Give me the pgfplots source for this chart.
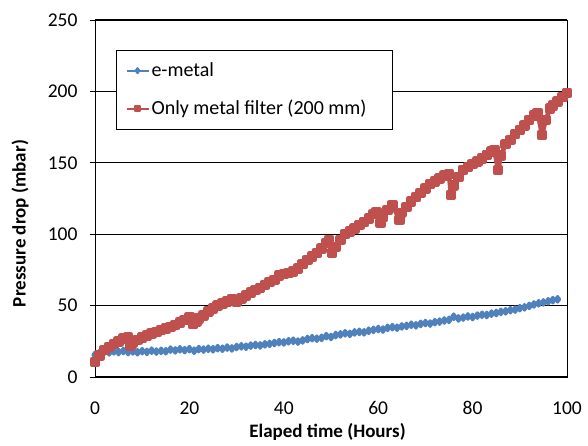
\documentclass[border=0pt]{standalone}
\usepackage{pgfplots}
\pgfplotsset{compat=1.18}
\usepackage{fontspec}
\setmainfont{Carlito}
\definecolor{exblue}{HTML}{4F81BD}
\definecolor{exred}{HTML}{C0504D}
\begin{document}
\fontsize{19bp}{22bp}\selectfont
\begin{tikzpicture}
\useasboundingbox (-95bp,-69bp) rectangle (493bp,377bp);
\begin{axis}[
  at={(0,0)}, anchor=south west,
  scale only axis,
  width=472bp, height=357bp,
  xmin=0, xmax=100, ymin=0, ymax=250,
  xtick={0,20,40,60,80,100},
  ytick={0,50,100,150,200,250},
  ymajorgrids=true,
  major grid style={black, line width=1.1bp},
  axis line style={black, line width=0.8bp},
  x tick style={draw=none},
  y tick style={black, line width=0.8bp},
  tick align=outside,
  major tick length=5bp,
  xtick pos=bottom, ytick pos=left,
  /pgf/number format/assume math mode=true,
  ticklabel style={font=\fontsize{19.5bp}{22bp}\selectfont},
  xticklabel style={yshift=-13bp},
  yticklabel style={xshift=-6bp},
  xlabel={\textbf{Elaped time (Hours)}},
  ylabel={\textbf{Pressure drop (mbar)}},
  xlabel style={at={(axis description cs:0.4926,-0.154)}, anchor=center, font=\fontsize{19bp}{22bp}\selectfont},
  ylabel style={at={(axis description cs:-0.159,0.43)}, anchor=center, rotate=0, font=\fontsize{19bp}{22bp}\selectfont},
  legend style={at={(0.045,0.916)}, anchor=north west, draw=black, line width=0.6bp, fill=white,
     font=\fontsize{20bp}{23bp}\selectfont, row sep=17bp, inner xsep=9bp, inner ysep=10bp},
  legend cell align=left,
  legend image code/.code={\draw[mark repeat=2,mark phase=2, line width=2bp, mark size=2.5bp] plot coordinates {(0bp,0bp) (11bp,0bp) (22bp,0bp)};},
]
\addplot[color=exblue, line width=3bp, line join=round, mark=diamond*, mark size=2.8bp, mark options={solid}] coordinates {
(0,15.5)(1,17.0)(2,17.8)(3,17.2)(4,18.0)(5,17.5)(6,18.2)(7,17.4)(8,17.9)(9,17.3)
(10,18.1)(11,17.6)(12,18.4)(13,17.8)(14,18.3)(15,18.0)(16,19.2)(17,18.6)(18,19.4)(19,18.8)
(20,19.5)(21,18.4)(22,19.6)(23,19.2)(24,19.8)(25,19.4)(26,20.2)(27,19.8)(28,20.6)(29,20.0)
(30,21.0)(31,21.5)(32,21.2)(33,22.0)(34,22.4)(35,22.1)(36,22.9)(37,23.2)(38,23.8)(39,24.4)
(40,24.2)(41,25.0)(42,25.4)(43,24.8)(44,25.6)(45,26.6)(46,27.2)(47,26.8)(48,27.4)(49,28.6)
(50,28.0)(51,29.4)(52,29.8)(53,30.6)(54,30.2)(55,31.2)(56,31.6)(57,31.3)(58,32.4)(59,33.0)
(60,33.6)(61,33.2)(62,34.4)(63,34.9)(64,34.5)(65,35.4)(66,35.8)(67,36.6)(68,36.2)(69,37.2)
(70,37.8)(71,37.4)(72,38.4)(73,38.8)(74,39.6)(75,40.0)(76,42.2)(77,41.0)(78,41.6)(79,42.4)
(80,42.0)(81,43.0)(82,43.6)(83,43.4)(84,44.4)(85,44.8)(86,45.6)(87,46.0)(88,46.8)(89,47.2)
(90,48.2)(91,48.8)(92,49.8)(93,50.8)(94,51.6)(95,52.2)(96,53.0)(97,53.8)(98,54.4)
};
\addlegendentry{e-metal}
\addplot[color=exred, line width=4.5bp, line join=round, mark=square*, mark size=3bp, mark options={solid}] coordinates {
(0,10.5)(1,15)(2,19)(3,21)(4,23)(5,25)(6,27)(7,27.5)(7.5,22)(8,24)(9,26)
(10,27.5)(11,29)(12,30.5)(13,31.5)(14,33)(15,34)(16,35)(17,36.5)(18,38)(19,40)
(20,42)(20.8,37)(21.5,39)(22,41)(23,43)(24,46)(25,48)(26,50)(27,51.5)(28,53)(29,54.5)
(30,53)(31,55)(32,57)(33,59)(34,61)(35,62.5)(36,64.5)(37,66.5)(38,68)(39,71)
(40,72)(41,73)(42,74)(43,76)(44,79)(45,82)(46,84.5)(47,87)(48,90)(49,94)(49.6,96)
(50.2,87)(51,91)(52,96)(53,100)(54,102)(55,104)(56,106.5)(57,108.5)(58,111)(59,114)(59.6,115.5)
(60.5,108)(61,112)(62,117)(63,120.5)(64.5,110)(65,115)(66,119)(67,123)(68,126)(69,129)
(70,132)(71,135)(72,137)(73,139)(74,141)(75,142)(75.4,127.5)(76,134)(77,140)(78,145)(79,147)
(80,149)(81,151)(82,153)(83,155.5)(84,158)(84.6,159)(85.4,145)(86,155)(87,163)(88,166)(89,170)
(90,173)(91,176)(92,180)(93,183)(93.8,185)(94.7,169.5)(95.5,180)(96.4,188)(97,190)(98,193)(99,196)(100,199)
};
\addlegendentry{\makebox[230bp][l]{Only metal filter (200 mm)}}
\end{axis}
\end{tikzpicture}
\end{document}
